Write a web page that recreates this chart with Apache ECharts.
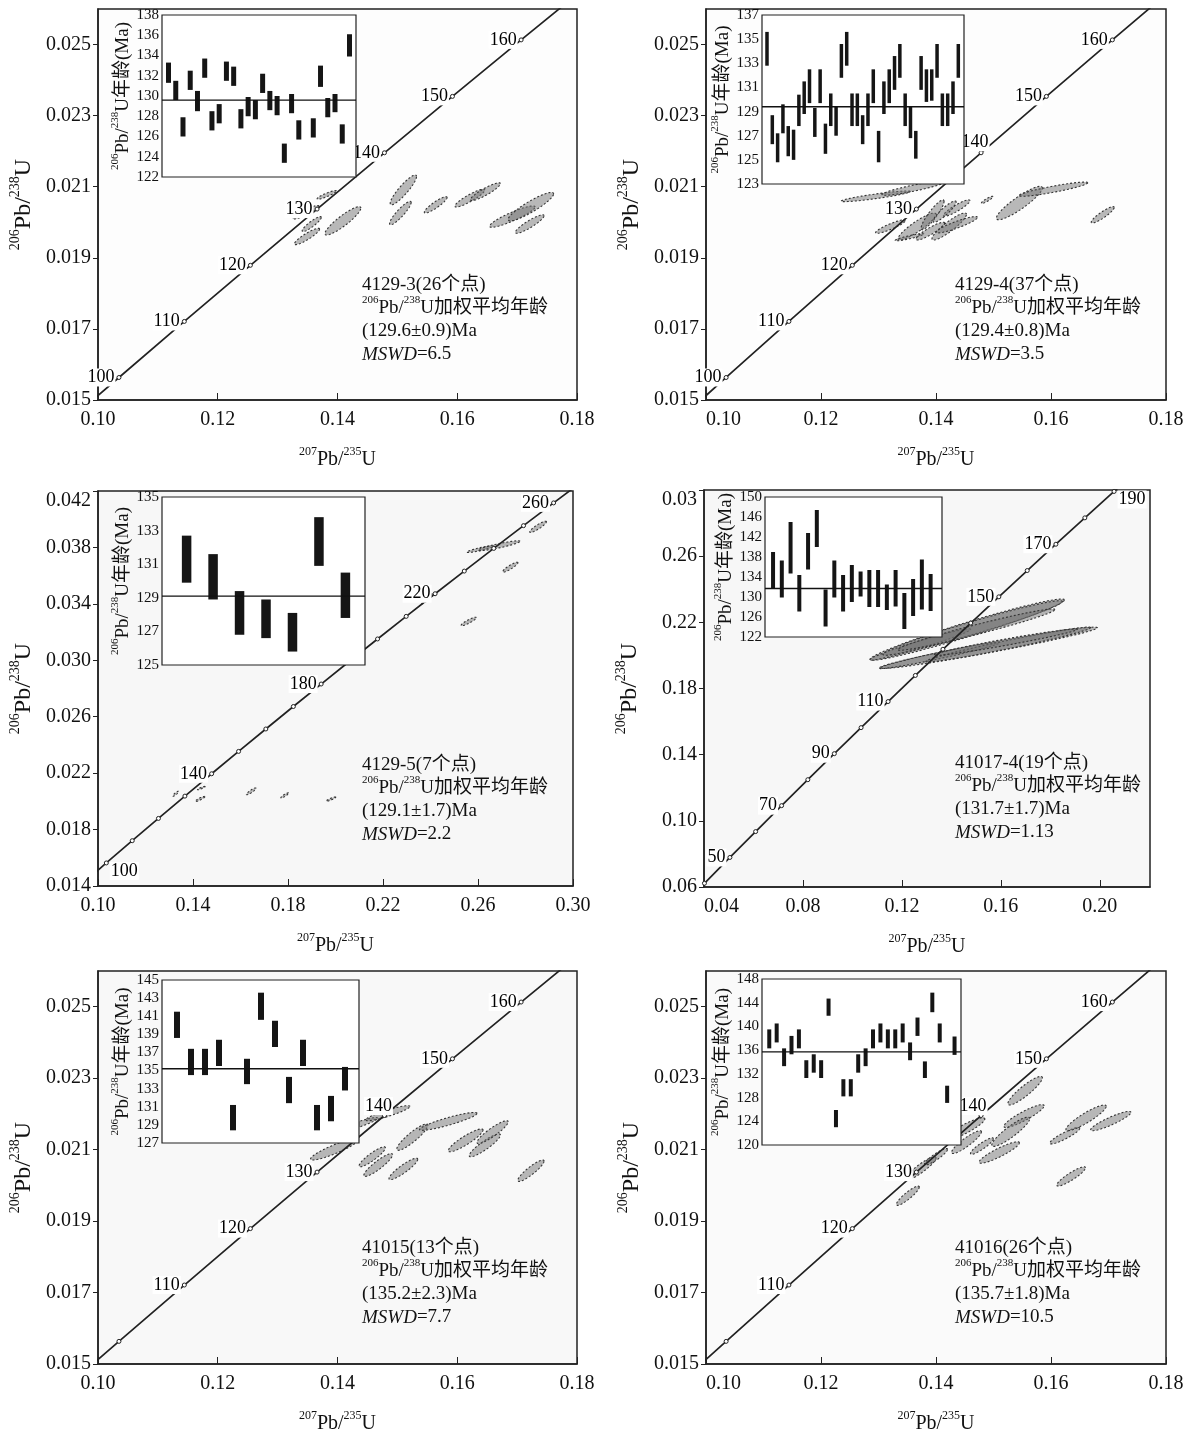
<!DOCTYPE html>
<html><head><meta charset="utf-8">
<script src="https://cdn.jsdelivr.net/npm/echarts@6/dist/echarts.min.js"></script>
<style>html,body{margin:0;padding:0;background:#fff}#c{width:1200px;height:1435px}</style>
</head><body><div id="c"></div>
<script>
// ---- Concordia reference points (age in Ma, 207Pb/235U, 206Pb/238U) ----
const concAge = [30,40,50,60,70,80,90,100,110,120,130,140,150,160,170,180,190,200,210,220,230,240,250,260,270,280];
const concX = [0.029986,0.040180,0.050475,0.060872,0.071371,0.081975,0.092683,0.103498,0.114419,0.125449,0.136588,0.147837,0.159197,0.170670,0.182256,0.193957,0.205774,0.217708,0.229759,0.241930,0.254222,0.266635,0.279171,0.291832,0.304617,0.317529];
const concY = [0.0046646,0.0062243,0.0077864,0.0093509,0.0109179,0.0124873,0.0140592,0.0156334,0.0172102,0.0187894,0.0203710,0.0219550,0.0235416,0.0251306,0.0267220,0.0283160,0.0299124,0.0315113,0.0331127,0.0347165,0.0363229,0.0379318,0.0395431,0.0411569,0.0427733,0.0443922];

// ---- Panel 1 : 4129-3 ----
const p1Title = '4129-3(26个点)';
const p1Age = '(129.6±0.9)Ma';
const p1Mswd = '6.5';
const p1XTicks = [0.10,0.12,0.14,0.16,0.18];
const p1YTicks = [0.015,0.017,0.019,0.021,0.023,0.025];
const p1AgeLabels = [100,110,120,130,140,150,160];
const p1EllX  = [0.1347,0.1349,0.1357,0.1382,0.1409,0.1510,0.1505,0.1564,0.1621,0.1647,0.1692,0.1723,0.1721];
const p1EllY  = [0.02028,0.01960,0.01995,0.02077,0.02004,0.02091,0.02026,0.02049,0.02068,0.02086,0.02016,0.02044,0.01995];
const p1EllHX = [0.0022,0.0021,0.0016,0.0016,0.0030,0.0022,0.0018,0.0019,0.0025,0.0025,0.0038,0.0038,0.0024];
const p1EllHY = [0.00019,0.00023,0.00021,0.00012,0.00040,0.00042,0.00033,0.00023,0.00025,0.00025,0.00030,0.00040,0.00026];
const p1BarLow  = [131.3,129.6,126.0,130.6,128.5,131.8,126.6,127.3,131.5,131.0,126.8,128.0,127.7,130.3,128.6,128.1,123.4,128.3,125.7,null,125.9,130.9,127.9,128.4,125.3,133.9];
const p1BarHigh = [133.3,131.5,127.9,132.5,130.5,133.7,128.5,129.2,133.4,132.9,128.7,129.9,129.6,132.2,130.5,130.0,125.3,130.2,127.6,null,127.8,133.0,129.8,130.2,127.2,136.1];
const p1InsetTicks = [122,124,126,128,130,132,134,136,138];
const p1Mean = 129.6;

// ---- Panel 2 : 4129-4 ----
const p2Title = '4129-4(37个点)';
const p2Age = '(129.4±0.8)Ma';
const p2Mswd = '3.5';
const p2XTicks = [0.10,0.12,0.14,0.16,0.18];
const p2YTicks = [0.015,0.017,0.019,0.021,0.023,0.025];
const p2AgeLabels = [100,110,120,130,140,150,160];
const p2EllX  = [0.1295,0.1361,0.1321,0.1367,0.1394,0.1423,0.1436,0.1436,0.1354,0.1489,0.1545,0.1604,0.1690,0.1390,0.1415];
const p2EllY  = [0.02073,0.02096,0.01988,0.01988,0.02021,0.01988,0.01993,0.02040,0.01958,0.02063,0.02054,0.02093,0.02021,0.01975,0.02030];
const p2EllHX = [0.0060,0.0055,0.0026,0.0033,0.0020,0.0030,0.0036,0.0023,0.0025,0.0010,0.0040,0.0060,0.0020,0.0025,0.0020];
const p2EllHY = [0.00015,0.00020,0.00019,0.00038,0.00042,0.00038,0.00023,0.00023,0.00010,0.00010,0.00047,0.00020,0.00023,0.00025,0.00030];
const p2BarLow  = [132.8,126.3,124.8,127.2,125.3,125.0,127.8,128.8,129.7,126.9,129.7,125.5,127.8,127.0,131.8,132.8,127.8,127.8,126.3,127.8,129.7,124.8,128.8,129.7,130.8,131.8,127.8,126.8,125.1,130.8,129.8,129.9,131.8,127.8,127.8,128.8,131.8];
const p2BarHigh = [135.6,128.7,127.2,129.6,127.8,127.5,130.4,131.5,132.5,129.3,132.5,128.0,130.5,129.4,134.6,135.6,130.5,130.5,128.7,130.5,132.5,127.4,131.5,132.5,133.6,134.6,130.5,129.4,127.4,133.6,132.5,132.5,134.6,130.5,130.5,131.5,134.6];
const p2InsetTicks = [123,125,127,129,131,133,135,137];
const p2Mean = 129.4;

// ---- Panel 3 : 4129-5 ----
const p3Title = '4129-5(7个点)';
const p3Age = '(129.1±1.7)Ma';
const p3Mswd = '2.2';
const p3XTicks = [0.10,0.14,0.18,0.22,0.26,0.30];
const p3YTicks = [0.014,0.018,0.022,0.026,0.030,0.034,0.038,0.042];
const p3AgeLabels = [100,140,180,220,260];
const p3EllX  = [0.2609,0.2689,0.2853,0.2736,0.2385,0.2561,0.1327,0.1435,0.1430,0.1645,0.1786,0.1981];
const p3EllY  = [0.03788,0.03812,0.03946,0.03660,0.03435,0.03275,0.02054,0.02094,0.02017,0.02071,0.02042,0.02016];
const p3EllHX = [0.0056,0.0088,0.0035,0.0032,0.0024,0.0032,0.0012,0.0016,0.0020,0.0020,0.0016,0.0020];
const p3EllHY = [0.00024,0.00035,0.00040,0.00035,0.00035,0.00030,0.00018,0.00012,0.00018,0.00024,0.00018,0.00015];
const p3BarLow  = [129.9,128.9,126.8,126.6,125.8,130.9,127.8];
const p3BarHigh = [132.7,131.6,129.4,128.9,128.1,133.8,130.5];
const p3InsetTicks = [125,127,129,131,133,135];
const p3Mean = 129.1;

// ---- Panel 4 : 41017-4 ----
const p4Title = '41017-4(19个点)';
const p4Age = '(131.7±1.7)Ma';
const p4Mswd = '1.13';
const p4XTicks = [0.04,0.08,0.12,0.16,0.20];
const p4YTicks = [0.006,0.010,0.014,0.018,0.022,0.026,0.030];
const p4YTickText = ['0.06','0.10','0.14','0.18','0.22','0.26','0.03'];
const p4AgeLabels = [50,70,90,110,150,170,190];
const p4EllX  = [0.1464,0.1550,0.1274,0.1486,0.1501,0.1353,0.1630,0.1619];
const p4EllY  = [0.02156,0.02046,0.02066,0.02166,0.02156,0.02000,0.02066,0.02080];
const p4EllHX = [0.0393,0.0440,0.0204,0.0363,0.0318,0.0244,0.0333,0.0290];
const p4EllHY = [0.00185,0.00125,0.00095,0.00165,0.00125,0.00080,0.00105,0.00080];
const p4BarLow  = [131.7,129.9,134.7,127.1,135.5,140.0,124.1,129.9,127.1,129.0,130.1,128.0,128.0,127.4,128.1,123.6,126.2,127.5,127.2];
const p4BarHigh = [139.0,137.3,145.0,134.4,142.8,147.4,131.5,137.3,134.4,136.4,135.1,135.4,135.4,132.5,135.4,130.8,133.6,137.5,134.6];
const p4InsetTicks = [122,126,130,134,138,142,146,150];
const p4Mean = 131.7;

// ---- Panel 5 : 41015 ----
const p5Title = '41015(13个点)';
const p5Age = '(135.2±2.3)Ma';
const p5Mswd = '7.7';
const p5XTicks = [0.10,0.12,0.14,0.16,0.18];
const p5YTicks = [0.015,0.017,0.019,0.021,0.023,0.025];
const p5AgeLabels = [110,120,130,140,150,160];
const p5EllX  = [0.1438,0.1484,0.1395,0.1525,0.1585,0.1458,0.1468,0.1510,0.1614,0.1646,0.1659,0.1723];
const p5EllY  = [0.02172,0.02202,0.02101,0.02135,0.02179,0.02080,0.02057,0.02046,0.02126,0.02112,0.02149,0.02041];
const p5EllHX = [0.0029,0.0037,0.0040,0.0026,0.0048,0.0022,0.0024,0.0024,0.0029,0.0026,0.0026,0.0022];
const p5EllHY = [0.00018,0.00021,0.00030,0.00037,0.00025,0.00028,0.00032,0.00030,0.00032,0.00032,0.00032,0.00030];
const p5BarLow  = [138.6,134.5,134.5,135.5,128.4,133.5,140.6,137.6,131.4,135.5,128.4,129.4,132.8];
const p5BarHigh = [141.5,137.4,137.4,138.4,131.2,136.3,143.6,140.5,134.3,138.4,131.2,132.2,135.4];
const p5InsetTicks = [127,129,131,133,135,137,139,141,143,145];
const p5Mean = 135.2;

// ---- Panel 6 : 41016 ----
const p6Title = '41016(26个点)';
const p6Age = '(135.7±1.8)Ma';
const p6Mswd = '10.5';
const p6XTicks = [0.10,0.12,0.14,0.16,0.18];
const p6YTicks = [0.015,0.017,0.019,0.021,0.023,0.025];
const p6AgeLabels = [110,120,130,140,150,160];
const p6EllX  = [0.1555,0.1553,0.1510,0.1480,0.1449,0.1453,0.1374,0.1351,0.1624,0.1661,0.1704,0.1635,0.1530,0.1400];
const p6EllY  = [0.02265,0.02194,0.02092,0.02110,0.02157,0.02121,0.02048,0.01971,0.02139,0.02189,0.02180,0.02025,0.02150,0.02080];
const p6EllHX = [0.0030,0.0035,0.0035,0.0020,0.0036,0.0026,0.0026,0.0020,0.0026,0.0035,0.0035,0.0025,0.0033,0.0020];
const p6EllHY = [0.00040,0.00032,0.00030,0.00023,0.00032,0.00032,0.00032,0.00027,0.00023,0.00036,0.00027,0.00027,0.00041,0.00023];
const p6BarLow  = [136.3,137.3,133.3,135.3,136.3,131.3,132.2,131.3,141.8,123.0,128.2,128.2,132.2,133.3,136.3,137.3,136.3,136.3,137.3,134.3,138.4,131.3,142.4,137.3,127.1,135.2];
const p6BarHigh = [139.5,140.5,136.3,138.4,139.5,134.3,135.3,134.3,144.7,125.9,131.1,131.1,135.3,136.3,139.5,140.5,139.5,139.5,140.5,137.3,141.5,134.1,145.7,140.5,130.0,138.3];
const p6InsetTicks = [120,124,128,132,136,140,144,148];
const p6Mean = 135.7;

const subLine = '{sup|206}{n|Pb/}{sup|238}{n|U加权平均年龄}';

// ---- layout / style (pixels) ----
const SERIF = "'Liberation Serif','Noto Sans CJK SC'";
const panels = [
  {main:{left:98,top:9,width:479,height:391}, xr:[0.10,0.18], yr:[0.015,0.026], xT:p1XTicks, yT:p1YTicks, xDec:2, yDec:3,
   ell:[p1EllX,p1EllY,p1EllHX,p1EllHY], rho:0.9, ages:p1AgeLabels, pos:{}, lo:p1BarLow, hi:p1BarHigh,
   inset:{left:162,top:15,width:194,height:162}, ix:[0.1,26.9], iT:p1InsetTicks, mean:p1Mean, bw:5,
   text:{x:362,y:276}, lines:[p1Title,p1Age,p1Mswd], bg:'#fdfdfd', minLeft:false},
  {main:{left:706,top:9,width:460,height:391}, xr:[0.10,0.18], yr:[0.015,0.026], xT:p2XTicks, yT:p2YTicks, xDec:2, yDec:3,
   ell:[p2EllX,p2EllY,p2EllHX,p2EllHY], rho:0.9, ages:p2AgeLabels, pos:{140:{position:'top', offset:[-6,2]}}, lo:p2BarLow, hi:p2BarHigh,
   inset:{left:762,top:15,width:202,height:169}, ix:[0.06,38.07], iT:p2InsetTicks, mean:p2Mean, bw:3.5,
   text:{x:955,y:276}, lines:[p2Title,p2Age,p2Mswd], bg:'#fdfdfd', minLeft:true},
  {main:{left:98,top:491,width:475,height:395}, xr:[0.10,0.30], yr:[0.014,0.042], xT:p3XTicks, yT:p3YTicks, xDec:2, yDec:3,
   ell:[p3EllX,p3EllY,p3EllHX,p3EllHY], rho:0.9, ages:p3AgeLabels, pos:{100:{position:'right', offset:[0,8]}}, lo:p3BarLow, hi:p3BarHigh,
   inset:{left:162,top:497,width:203,height:168}, ix:[0.07,7.74], iT:p3InsetTicks, mean:p3Mean, bw:9.5,
   text:{x:362,y:756}, lines:[p3Title,p3Age,p3Mswd], bg:'#f7f7f7', minLeft:false, maxTop:true},
  {main:{left:704,top:490,width:446,height:397}, xr:[0.04,0.2203], yr:[0.006,0.030], xT:p4XTicks, yT:p4YTicks, xDec:2, yDec:3, yText:p4YTickText,
   ell:[p4EllX,p4EllY,p4EllHX,p4EllHY], rho:0.97, ages:p4AgeLabels, pos:{190:{position:'right', offset:[0,8]}}, lo:p4BarLow, hi:p4BarHigh,
   inset:{left:765,top:497,width:177,height:140}, ix:[0.08,20.3], iT:p4InsetTicks, mean:p4Mean, bw:4,
   text:{x:955,y:754}, lines:[p4Title,p4Age,p4Mswd], bg:'#f7f7f7', minLeft:true, maxTop:true},
  {main:{left:98,top:971,width:479,height:395}, xr:[0.10,0.18], yr:[0.015,0.026], xT:p5XTicks, yT:p5YTicks, xDec:2, yDec:3,
   ell:[p5EllX,p5EllY,p5EllHX,p5EllHY], rho:0.9, ages:p5AgeLabels, pos:{140:{position:'top', offset:[-6,3]}}, lo:p5BarLow, hi:p5BarHigh,
   inset:{left:162,top:980,width:197,height:163}, ix:[-0.07,14.0], iT:p5InsetTicks, mean:p5Mean, bw:6,
   text:{x:362,y:1239}, lines:[p5Title,p5Age,p5Mswd], bg:'#f8f8f8', minLeft:false},
  {main:{left:706,top:971,width:460,height:395}, xr:[0.10,0.18], yr:[0.015,0.026], xT:p6XTicks, yT:p6YTicks, xDec:2, yDec:3,
   ell:[p6EllX,p6EllY,p6EllHX,p6EllHY], rho:0.9, ages:p6AgeLabels, pos:{140:{position:'top', offset:[-8,3]}}, lo:p6BarLow, hi:p6BarHigh,
   inset:{left:762,top:979,width:199,height:166}, ix:[0.02,26.87], iT:p6InsetTicks, mean:p6Mean, bw:4,
   text:{x:955,y:1239}, lines:[p6Title,p6Age,p6Mswd], bg:'#fafafa', minLeft:true}
];

const grids = [], xAxes = [], yAxes = [], series = [], graphics = [];
const supRich = (big, small) => ({
  n: {fontSize: big, fontFamily: SERIF, color: '#111', lineHeight: big + 4, verticalAlign: 'bottom'},
  sup: {fontSize: small, fontFamily: SERIF, color: '#111', lineHeight: small + 1, verticalAlign: 'top'}
});

panels.forEach((p, k) => {
  const gi = 2 * k, ii = 2 * k + 1;
  grids.push(Object.assign({show: true, backgroundColor: p.bg, borderColor: '#222', borderWidth: 1.5, z: 0}, p.main));
  xAxes.push({
    type: 'value', gridIndex: gi, min: p.xr[0], max: p.xr[1],
    name: '{sup|207}{n|Pb/}{sup|235}{n|U}', nameLocation: 'middle', nameGap: 46,
    nameTextStyle: {rich: supRich(20, 12)},
    axisLine: {show: true, lineStyle: {color: '#222', width: 1.5}},
    axisTick: {show: true, inside: true, length: 7, customValues: p.xT, lineStyle: {color: '#222'}},
    axisLabel: {customValues: p.xT, color: '#111', fontSize: 20, fontFamily: SERIF, margin: 10,
      alignMinLabel: p.minLeft ? 'left' : 'center',
      formatter: v => v.toFixed(p.xDec)},
    splitLine: {show: false}
  });
  yAxes.push({
    type: 'value', gridIndex: gi, min: p.yr[0], max: p.yr[1],
    name: '{sup|206}{n|Pb/}{sup|238}{n|U}', nameLocation: 'middle', nameGap: 62, nameRotate: 90,
    nameTextStyle: {rich: supRich(24, 14)},
    axisLine: {show: true, lineStyle: {color: '#222', width: 1.5}},
    axisTick: {show: true, inside: false, length: 5, customValues: p.yT, lineStyle: {color: '#222'}},
    axisLabel: {customValues: p.yT, color: '#111', fontSize: 20, fontFamily: SERIF, margin: 7,
      verticalAlignMaxLabel: p.maxTop ? 'top' : 'middle',
      formatter: v => {
        if (p.yText) {
          let best = 0;
          p.yT.forEach((t, j) => { if (Math.abs(t - v) < Math.abs(p.yT[best] - v)) best = j; });
          return p.yText[best];
        }
        return v.toFixed(p.yDec);
      }},
    splitLine: {show: false}
  });
  const [ex, ey, ehx, ehy] = p.ell;
  const rho = p.rho, s = Math.sqrt(1 - rho * rho);
  series.push({
    type: 'custom', xAxisIndex: gi, yAxisIndex: gi, z: 2, clip: true,
    data: ex.map((x, i) => [x, ey[i], ehx[i], ehy[i]]),
    encode: {x: 0, y: 1},
    renderItem: (params, api) => {
      const cx = api.value(0), cy = api.value(1), hx = api.value(2), hy = api.value(3);
      const pts = [];
      for (let q = 0; q < 60; q++) {
        const t = q / 60 * Math.PI * 2;
        pts.push(api.coord([cx + hx * Math.cos(t), cy + hy * (rho * Math.cos(t) + s * Math.sin(t))]));
      }
      return {type: 'polygon', shape: {points: pts},
        style: {fill: 'rgba(115,115,115,0.5)', stroke: '#333', lineWidth: 1.1, lineDash: [2, 2]}};
    }
  });
  series.push({
    type: 'line', xAxisIndex: gi, yAxisIndex: gi, z: 3,
    data: concAge.map((a, i) => [concX[i], concY[i]]),
    showSymbol: true, symbol: 'circle', symbolSize: 4,
    itemStyle: {color: '#fff', borderColor: '#222', borderWidth: 1},
    lineStyle: {color: '#222', width: 1.7}, silent: true
  });
  series.push({
    type: 'scatter', xAxisIndex: gi, yAxisIndex: gi, z: 4, symbolSize: 1,
    itemStyle: {opacity: 1, color: 'rgba(0,0,0,0)'},
    data: p.ages.map(a => {
      const i = concAge.indexOf(a);
      const d = [concX[i], concY[i], a];
      return p.pos[a] ? {value: d, label: p.pos[a]} : d;
    }),
    label: {show: true, formatter: pr => String(pr.value[2]), fontSize: 18, fontFamily: SERIF, color: '#000',
      opacity: 1, backgroundColor: '#fff', padding: [0, 1], distance: 3, position: 'left'},
    silent: true
  });

  grids.push(Object.assign({show: true, backgroundColor: '#fff', borderColor: '#222', borderWidth: 1.2, z: 10}, p.inset));
  xAxes.push({type: 'value', gridIndex: ii, min: p.ix[0], max: p.ix[1], z: 11,
    axisLine: {show: false}, axisTick: {show: false}, axisLabel: {show: false}, splitLine: {show: false}});
  yAxes.push({type: 'value', gridIndex: ii, min: p.iT[0], max: p.iT[p.iT.length - 1], z: 11,
    name: '{sup|206}{n|Pb/}{sup|238}{n|U年龄(Ma)}', nameLocation: 'middle', nameRotate: 90, nameGap: 28,
    nameTextStyle: {rich: supRich(19, 11)},
    axisLine: {show: false}, axisTick: {show: false},
    axisLabel: {customValues: p.iT, color: '#111', fontSize: 15, fontFamily: SERIF, margin: 3},
    splitLine: {show: false}});
  const bw = p.bw;
  series.push({
    type: 'custom', xAxisIndex: ii, yAxisIndex: ii, z: 12,
    data: p.lo.map((l, i) => [i + 1, l, p.hi[i]]).filter(d => d[1] != null),
    encode: {x: 0, y: [1, 2]},
    renderItem: (params, api) => {
      const a = api.coord([api.value(0), api.value(2)]);
      const b = api.coord([api.value(0), api.value(1)]);
      return {type: 'rect', shape: {x: a[0] - bw / 2, y: a[1], width: bw, height: b[1] - a[1]},
        style: {fill: '#151515'}};
    }
  });
  series.push({
    type: 'line', xAxisIndex: ii, yAxisIndex: ii, z: 13, showSymbol: false, silent: true,
    data: [[p.ix[0], p.mean], [p.ix[1], p.mean]],
    lineStyle: {color: '#111', width: 1.3}
  });

  graphics.push({
    type: 'text', left: p.text.x, top: p.text.y, z: 20,
    style: {
      text: ['{n|' + p.lines[0] + '}', subLine, '{n|' + p.lines[1] + '}', '{it|MSWD}{n|=' + p.lines[2] + '}'].join('\n'),
      rich: Object.assign(supRich(19, 11), {it: {fontSize: 19, fontFamily: SERIF, fontStyle: 'italic', color: '#111', lineHeight: 23, verticalAlign: 'bottom'}}),
      fill: '#111'
    }
  });
});

const chart = echarts.init(document.getElementById('c'), null, {renderer: 'canvas'});
chart.setOption({
  animation: false,
  backgroundColor: '#fff',
  grid: grids, xAxis: xAxes, yAxis: yAxes, series: series, graphic: graphics
});
</script></body></html>
